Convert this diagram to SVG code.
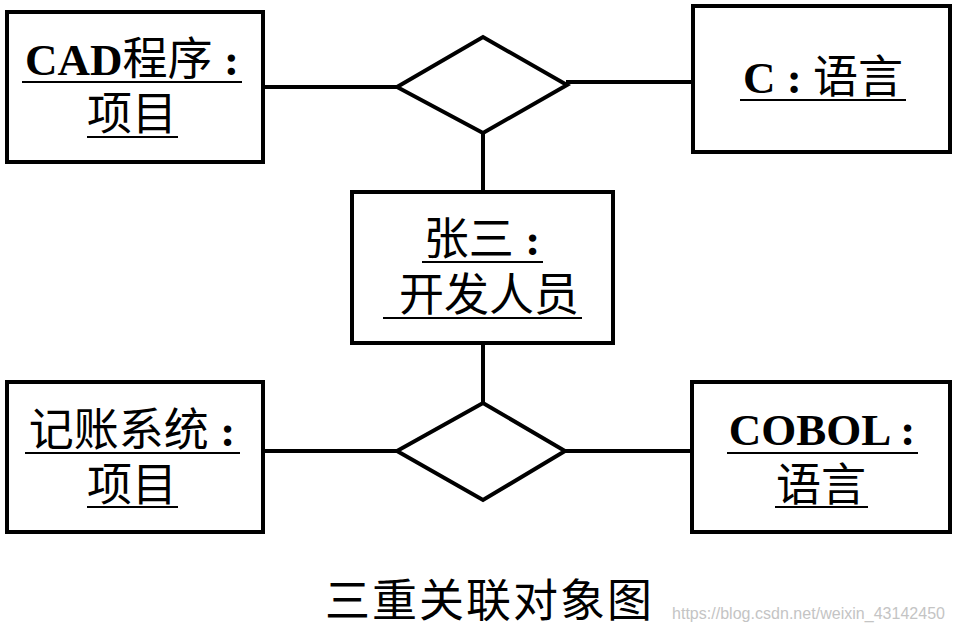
<svg xmlns="http://www.w3.org/2000/svg" width="955" height="633" viewBox="0 0 955 633">
<style>
.box{fill:#fff;stroke:#000;stroke-width:4}
.dia{fill:#fff;stroke:#000;stroke-width:4;stroke-linejoin:miter}
.con{stroke:#000;stroke-width:4;fill:none}
.ul{stroke:#000;stroke-width:2}
.t{font-family:"Liberation Serif","Noto Sans CJK SC",serif;font-size:45px;fill:#000;text-anchor:middle}
.b{font-weight:bold}
.cap{font-family:"Liberation Serif","Noto Sans CJK SC",serif;font-size:45px;fill:#000}
.wm{font-family:"Liberation Sans",Arial,sans-serif;font-size:16px;fill:#c4c4c4}
</style>
<rect width="955" height="633" fill="#fff"/>
<g id="connectors">
<line class="con" x1="263" y1="87" x2="397" y2="87"/>
<line class="con" x1="566" y1="82" x2="693" y2="82"/>
<line class="con" x1="483" y1="133" x2="483" y2="192"/>
<line class="con" x1="483" y1="343" x2="483" y2="403"/>
<line class="con" x1="263" y1="451" x2="397" y2="451"/>
<line class="con" x1="565" y1="451" x2="692" y2="451"/>
</g>
<g id="rel1"><polygon class="dia" points="397,87 483,37 567,85 483,133"/></g>
<g id="rel2"><polygon class="dia" points="397,451 483,403 565,451 483,500"/></g>
<g id="cad">
<rect class="box" x="7" y="12" width="256" height="150"/>
<text class="t" x="132" y="75"><tspan class="b">CAD</tspan>程序 <tspan class="b">:</tspan></text>
<line class="ul" x1="22" y1="82" x2="242" y2="82"/>
<text class="t" x="132" y="130">项目</text>
<line class="ul" x1="87" y1="137" x2="178" y2="137"/>
</g>
<g id="c">
<rect class="box" x="693" y="6" width="257" height="146"/>
<text class="t" x="823" y="93"><tspan class="b">C :</tspan> 语言</text>
<line class="ul" x1="740" y1="100" x2="906" y2="100"/>
</g>
<g id="zhang">
<rect class="box" x="352" y="192" width="261" height="151"/>
<text class="t" x="482" y="255">张三 <tspan class="b">:</tspan></text>
<line class="ul" x1="422" y1="262" x2="543" y2="262"/>
<text class="t" x="489" y="311">开发人员</text>
<line class="ul" x1="383" y1="318" x2="582" y2="318"/>
</g>
<g id="jizhang">
<rect class="box" x="7" y="382" width="256" height="150"/>
<text class="t" x="132" y="446">记账系统 <tspan class="b">:</tspan></text>
<line class="ul" x1="25" y1="453" x2="240" y2="453"/>
<text class="t" x="132" y="501">项目</text>
<line class="ul" x1="87" y1="507" x2="178" y2="507"/>
</g>
<g id="cobol">
<rect class="box" x="692" y="382" width="258" height="150"/>
<text class="t b" x="822" y="445">COBOL :</text>
<line class="ul" x1="727" y1="453" x2="918" y2="453"/>
<text class="t" x="821" y="501">语言</text>
<line class="ul" x1="775" y1="507" x2="868" y2="507"/>
</g>
<text class="cap" x="325" y="617" textLength="327">三重关联对象图</text>
<text class="wm" x="672" y="619" textLength="273">https://blog.csdn.net/weixin_43142450</text>
</svg>
